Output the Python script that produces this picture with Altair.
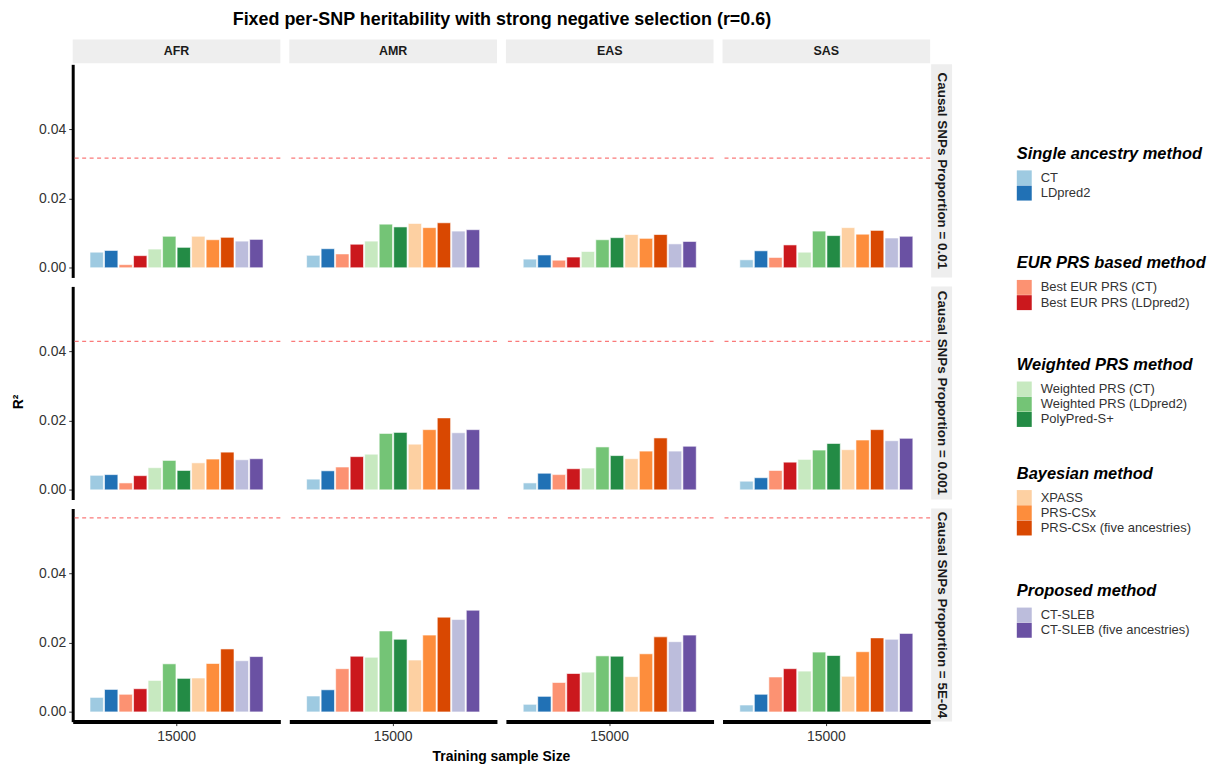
import altair as alt
import pandas as pd

ancestries = ["AFR", "AMR", "EAS", "SAS"]
props = ["Causal SNPs Proportion = 0.01",
         "Causal SNPs Proportion = 0.001",
         "Causal SNPs Proportion = 5E-04"]
methods = ["CT", "LDpred2", "Best EUR PRS (CT)", "Best EUR PRS (LDpred2)",
           "Weighted PRS (CT)", "Weighted PRS (LDpred2)", "PolyPred-S+",
           "XPASS", "PRS-CSx", "PRS-CSx (five ancestries)",
           "CT-SLEB", "CT-SLEB (five ancestries)"]
colors = ["#9ECAE1", "#2171B5", "#FC9272", "#CB181D",
          "#C7E9C0", "#74C476", "#238B45",
          "#FDD0A2", "#FD8D3C", "#D94801",
          "#BCBDDC", "#6A51A3"]
groups = ["Single ancestry method", "Single ancestry method",
          "EUR PRS based method", "EUR PRS based method",
          "Weighted PRS method", "Weighted PRS method", "Weighted PRS method",
          "Bayesian method", "Bayesian method", "Bayesian method",
          "Proposed method", "Proposed method"]
group_titles = ["Single ancestry method", "EUR PRS based method",
                "Weighted PRS method", "Bayesian method", "Proposed method"]

# R^2 values, order of `methods`
r2_p01_AFR = [0.0045, 0.0050, 0.0009, 0.0035, 0.0054, 0.0091, 0.0059, 0.0091, 0.0081, 0.0088, 0.0077, 0.0082]
r2_p01_AMR = [0.0036, 0.0055, 0.0040, 0.0068, 0.0077, 0.0126, 0.0118, 0.0128, 0.0116, 0.0130, 0.0106, 0.0110]
r2_p01_EAS = [0.0025, 0.0037, 0.0022, 0.0031, 0.0047, 0.0081, 0.0087, 0.0096, 0.0085, 0.0096, 0.0069, 0.0076]
r2_p01_SAS = [0.0023, 0.0049, 0.0030, 0.0066, 0.0045, 0.0106, 0.0093, 0.0116, 0.0097, 0.0108, 0.0086, 0.0091]

r2_p001_AFR = [0.0042, 0.0044, 0.0020, 0.0041, 0.0064, 0.0085, 0.0056, 0.0078, 0.0089, 0.0109, 0.0087, 0.0090]
r2_p001_AMR = [0.0031, 0.0055, 0.0066, 0.0096, 0.0103, 0.0163, 0.0166, 0.0132, 0.0174, 0.0208, 0.0165, 0.0174]
r2_p001_EAS = [0.0020, 0.0048, 0.0044, 0.0061, 0.0063, 0.0124, 0.0099, 0.0090, 0.0112, 0.0150, 0.0112, 0.0126]
r2_p001_SAS = [0.0025, 0.0035, 0.0056, 0.0080, 0.0088, 0.0115, 0.0134, 0.0116, 0.0144, 0.0174, 0.0142, 0.0149]

r2_p5e4_AFR = [0.0042, 0.0065, 0.0051, 0.0067, 0.0091, 0.0139, 0.0097, 0.0098, 0.0140, 0.0182, 0.0148, 0.0160]
r2_p5e4_AMR = [0.0046, 0.0064, 0.0125, 0.0161, 0.0158, 0.0234, 0.0210, 0.0150, 0.0222, 0.0274, 0.0267, 0.0294]
r2_p5e4_EAS = [0.0022, 0.0045, 0.0085, 0.0111, 0.0115, 0.0162, 0.0161, 0.0102, 0.0168, 0.0217, 0.0203, 0.0222]
r2_p5e4_SAS = [0.0020, 0.0051, 0.0101, 0.0125, 0.0118, 0.0173, 0.0163, 0.0103, 0.0174, 0.0214, 0.0210, 0.0227]

heritability = [0.0317, 0.0429, 0.0561]
sample_size = "15000"

values = {
    (props[0], "AFR"): r2_p01_AFR, (props[0], "AMR"): r2_p01_AMR,
    (props[0], "EAS"): r2_p01_EAS, (props[0], "SAS"): r2_p01_SAS,
    (props[1], "AFR"): r2_p001_AFR, (props[1], "AMR"): r2_p001_AMR,
    (props[1], "EAS"): r2_p001_EAS, (props[1], "SAS"): r2_p001_SAS,
    (props[2], "AFR"): r2_p5e4_AFR, (props[2], "AMR"): r2_p5e4_AMR,
    (props[2], "EAS"): r2_p5e4_EAS, (props[2], "SAS"): r2_p5e4_SAS,
}

rows = []
for pi, p in enumerate(props):
    for a in ancestries:
        for mi, m in enumerate(methods):
            rows.append({"prop": p, "ancestry": a, "method": m, "group": groups[mi],
                         "value": values[(p, a)][mi], "h2": heritability[pi],
                         "n": sample_size})
df = pd.DataFrame(rows)
legend_df = pd.DataFrame({"method": methods, "group": groups})

W, H = 208.5, 214
FONT = "Liberation Sans"

x_enc = alt.X("n:N", title=None,
              scale=alt.Scale(paddingOuter=0.1, paddingInner=0),
              axis=alt.Axis(labelFontSize=14, labelColor="#333333", labelAngle=0,
                            domainWidth=4, domainColor="black", tickColor="#333333",
                            tickSize=4, labelPadding=4))
xo_enc = alt.XOffset("method:N", scale=alt.Scale(domain=methods, paddingInner=0.08))
y_enc = alt.Y("value:Q", title=None,
              scale=alt.Scale(domain=[-0.0028, 0.0588], nice=False, zero=False),
              axis=alt.Axis(values=[0, 0.02, 0.04], format=".2f", labelFontSize=14,
                            labelColor="#333333", domainWidth=3, domainColor="black",
                            tickColor="#333333", tickSize=4, grid=False, labelPadding=3))

bars = alt.Chart().mark_bar(stroke="white", strokeWidth=0.6).encode(
    x=x_enc, xOffset=xo_enc, y=y_enc, y2=alt.datum(0),
    color=alt.Color("method:N", scale=alt.Scale(domain=methods, range=colors), legend=None),
)

rule = alt.Chart().mark_rule(color="#FA7A7A", strokeDash=[4, 3.5], strokeWidth=1.3).encode(
    y=alt.Y("h2:Q")
).transform_filter(alt.datum.method == "CT")

col_strip = alt.Chart().mark_rect(color="#EEEEEE").encode(
    x=alt.value(0), x2=alt.value(W), y=alt.value(-25), y2=alt.value(-1)
).transform_filter((alt.datum.method == "CT") & (alt.datum.prop == props[0]))

col_text = alt.Chart().mark_text(font=FONT, fontSize=12.5, fontWeight="bold",
                                 color="#1A1A1A", baseline="middle").encode(
    x=alt.value(W / 2), y=alt.value(-13), text="ancestry:N"
).transform_filter((alt.datum.method == "CT") & (alt.datum.prop == props[0]))

row_strip = alt.Chart().mark_rect(color="#EEEEEE").encode(
    x=alt.value(W + 1), x2=alt.value(W + 22), y=alt.value(0), y2=alt.value(H)
).transform_filter((alt.datum.method == "CT") & (alt.datum.ancestry == "SAS"))

row_text = alt.Chart().mark_text(font=FONT, fontSize=13.5, fontWeight="bold",
                                 color="#1A1A1A", angle=90, baseline="middle").encode(
    x=alt.value(W + 11.5), y=alt.value(H / 2), text="prop:N"
).transform_filter((alt.datum.method == "CT") & (alt.datum.ancestry == "SAS"))

x_title = alt.Chart().mark_text(font=FONT, fontSize=14, fontWeight="bold",
                                color="black", baseline="middle").encode(
    x=alt.value(W + 4.5), y=alt.value(H + 36), text=alt.value("Training sample Size")
).transform_filter((alt.datum.method == "CT") & (alt.datum.ancestry == "AMR")
                   & (alt.datum.prop == props[2]))

layered = alt.layer(bars, rule, col_strip, col_text, row_strip, row_text, x_title
                    ).properties(width=W, height=H)

facet_chart = layered.facet(
    data=df,
    row=alt.Row("prop:N", sort=props,
                header=alt.Header(labels=False, title="R²", titleOrient="left",
                                  titleFont=FONT, titleFontSize=14, titleFontWeight="bold",
                                  titleColor="black", titlePadding=2)),
    column=alt.Column("ancestry:N", sort=ancestries,
                      header=alt.Header(labels=False, title=None)),
    spacing={"row": 9, "column": 8.5},
    bounds="flush",
).properties(
    title=alt.TitleParams("Fixed per-SNP heritability with strong negative selection (r=0.6)",
                          font=FONT, fontSize=18, fontWeight="bold", color="black",
                          anchor="middle", offset=10, dx=20),
)

# legend chart: invisible marks, one independent colour legend per method group
legend_x = 65
legend_ys = [82, 192, 294, 403, 521]
legend_layers = []
for gi, g in enumerate(group_titles):
    dom = [m for m, gg in zip(methods, groups) if gg == g]
    rng = [c for c, gg in zip(colors, groups) if gg == g]
    legend_layers.append(
        alt.Chart(legend_df).mark_square(size=1).encode(
            opacity=alt.value(0),
            color=alt.Color("method:N", scale=alt.Scale(domain=dom, range=rng),
                            legend=alt.Legend(title=g, orient="none", symbolOpacity=1,
                                              legendX=legend_x, legendY=legend_ys[gi])),
        ).transform_filter(alt.datum.group == g)
    )
legend_chart = alt.layer(*legend_layers).resolve_scale(color="independent").properties(
    width=1, height=1)

chart = alt.hconcat(facet_chart, legend_chart, spacing=0).resolve_scale(
    color="independent"
).properties(
    padding={"left": 12, "top": 10, "right": 5, "bottom": 5},
).configure_view(stroke=None).configure_axis(
    labelFont=FONT, titleFont=FONT
).configure_legend(
    titleFont=FONT, titleFontSize=16.5, titleFontStyle="italic", titleFontWeight="bold",
    titleColor="black", labelFont=FONT, labelFontSize=13, labelColor="#333333",
    symbolType="square", symbolSize=225, symbolStrokeWidth=0, rowPadding=0.3,
    labelOffset=9, titlePadding=8, titleLimit=400, labelLimit=400
)

chart.save("out.html", embed_options={"renderer": "svg", "actions": False})
